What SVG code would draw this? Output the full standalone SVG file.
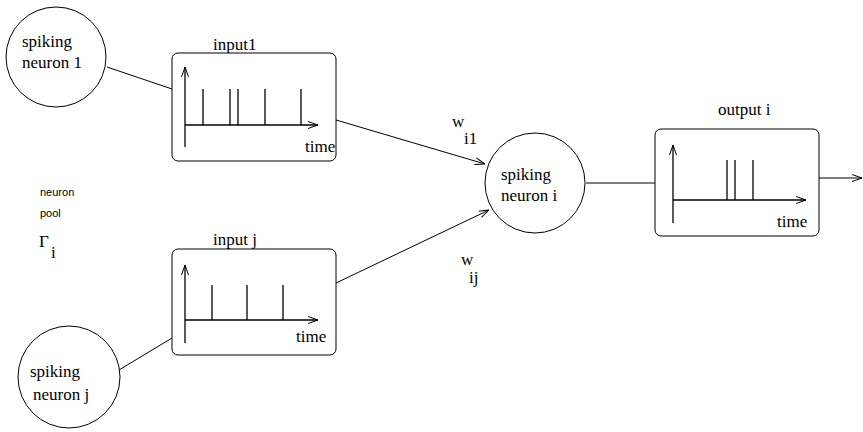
<svg xmlns="http://www.w3.org/2000/svg" width="863" height="432" viewBox="0 0 863 432">
<style>
.t{font-family:'Liberation Serif','DejaVu Serif','Times New Roman',serif;font-size:17px;fill:#000}
.s{font-family:'Liberation Sans','DejaVu Sans',Arial,sans-serif;font-size:11px;fill:#000}
.n{fill:#fff;stroke:#000;stroke-width:1}
.ln{stroke:#000;stroke-width:1;fill:none}
.ax{stroke:#000;stroke-width:1.3;fill:none}
.sp{stroke:#000;stroke-width:1.3}
</style>
<defs>
<marker id="ah" viewBox="0 0 10 10" refX="10" refY="5" markerWidth="10" markerHeight="10" markerUnits="userSpaceOnUse" orient="auto">
<path d="M0,1.5 L10,5 L0,8.5" fill="none" stroke="#000" stroke-width="1"/>
</marker>
</defs>
<rect width="863" height="432" fill="#fff"/>
<g id="connectors">
<line class="ln" x1="107" y1="67" x2="172" y2="89"/>
<line class="ln" x1="119" y1="370" x2="172" y2="338"/>
<line class="ln" x1="336" y1="120" x2="485" y2="164" marker-end="url(#ah)"/>
<line class="ln" x1="336" y1="283" x2="489" y2="210" marker-end="url(#ah)"/>
<line class="ln" x1="586" y1="183" x2="655" y2="183"/>
<line class="ln" x1="819" y1="178" x2="862" y2="178" marker-end="url(#ah)"/>
<text class="t" x="452" y="127" font-size="14">w</text>
<text class="t" x="464" y="144">i1</text>
<text class="t" x="461" y="265" font-size="14">w</text>
<text class="t" x="469" y="283">ij</text>
</g>
<g id="neuron1">
<circle class="n" cx="56" cy="57" r="50"/>
<text class="t" x="22" y="47">spiking</text>
<text class="t" x="22" y="68">neuron 1</text>
</g>
<g id="neuronj">
<circle class="n" cx="69" cy="377" r="51"/>
<text class="t" x="30" y="377">spiking</text>
<text class="t" x="33" y="400">neuron j</text>
</g>
<g id="neuroni">
<circle class="n" cx="535" cy="183" r="50"/>
<text class="t" x="501" y="180">spiking</text>
<text class="t" x="501" y="201">neuron i</text>
</g>
<g id="pool">
<text class="s" x="40" y="196">neuron</text>
<text class="s" x="40" y="217">pool</text>
<text class="t" x="39" y="247" font-size="20">Γ</text>
<text class="t" x="51" y="258">i</text>
</g>
<g id="input1">
<text class="t" x="213" y="50">input1</text>
<rect class="n" x="172" y="53" width="164" height="108" rx="6"/>
<line class="ax" x1="185" y1="147" x2="185" y2="67" marker-end="url(#ah)"/>
<line class="ax" x1="185" y1="125" x2="318" y2="125" marker-end="url(#ah)"/>
<line class="sp" x1="203" y1="125" x2="203" y2="89"/>
<line class="sp" x1="230" y1="125" x2="230" y2="89"/>
<line class="sp" x1="238" y1="125" x2="238" y2="89"/>
<line class="sp" x1="265" y1="125" x2="265" y2="89"/>
<line class="sp" x1="301" y1="125" x2="301" y2="89"/>
<text class="t" x="305" y="152">time</text>
</g>
<g id="inputj">
<text class="t" x="213" y="245">input j</text>
<rect class="n" x="172" y="249" width="164" height="106" rx="6"/>
<line class="ax" x1="185" y1="343" x2="185" y2="265" marker-end="url(#ah)"/>
<line class="ax" x1="185" y1="320" x2="318" y2="320" marker-end="url(#ah)"/>
<line class="sp" x1="212" y1="320" x2="212" y2="285"/>
<line class="sp" x1="247" y1="320" x2="247" y2="285"/>
<line class="sp" x1="283" y1="320" x2="283" y2="285"/>
<text class="t" x="296" y="342">time</text>
</g>
<g id="outputi">
<text class="t" x="718" y="115">output i</text>
<rect class="n" x="655" y="129" width="164" height="107" rx="6"/>
<line class="ax" x1="673" y1="223" x2="673" y2="145" marker-end="url(#ah)"/>
<line class="ax" x1="673" y1="200" x2="806" y2="200" marker-end="url(#ah)"/>
<line class="sp" x1="727" y1="200" x2="727" y2="160"/>
<line class="sp" x1="735" y1="200" x2="735" y2="160"/>
<line class="sp" x1="753" y1="200" x2="753" y2="160"/>
<text class="t" x="777" y="227">time</text>
</g>
</svg>
